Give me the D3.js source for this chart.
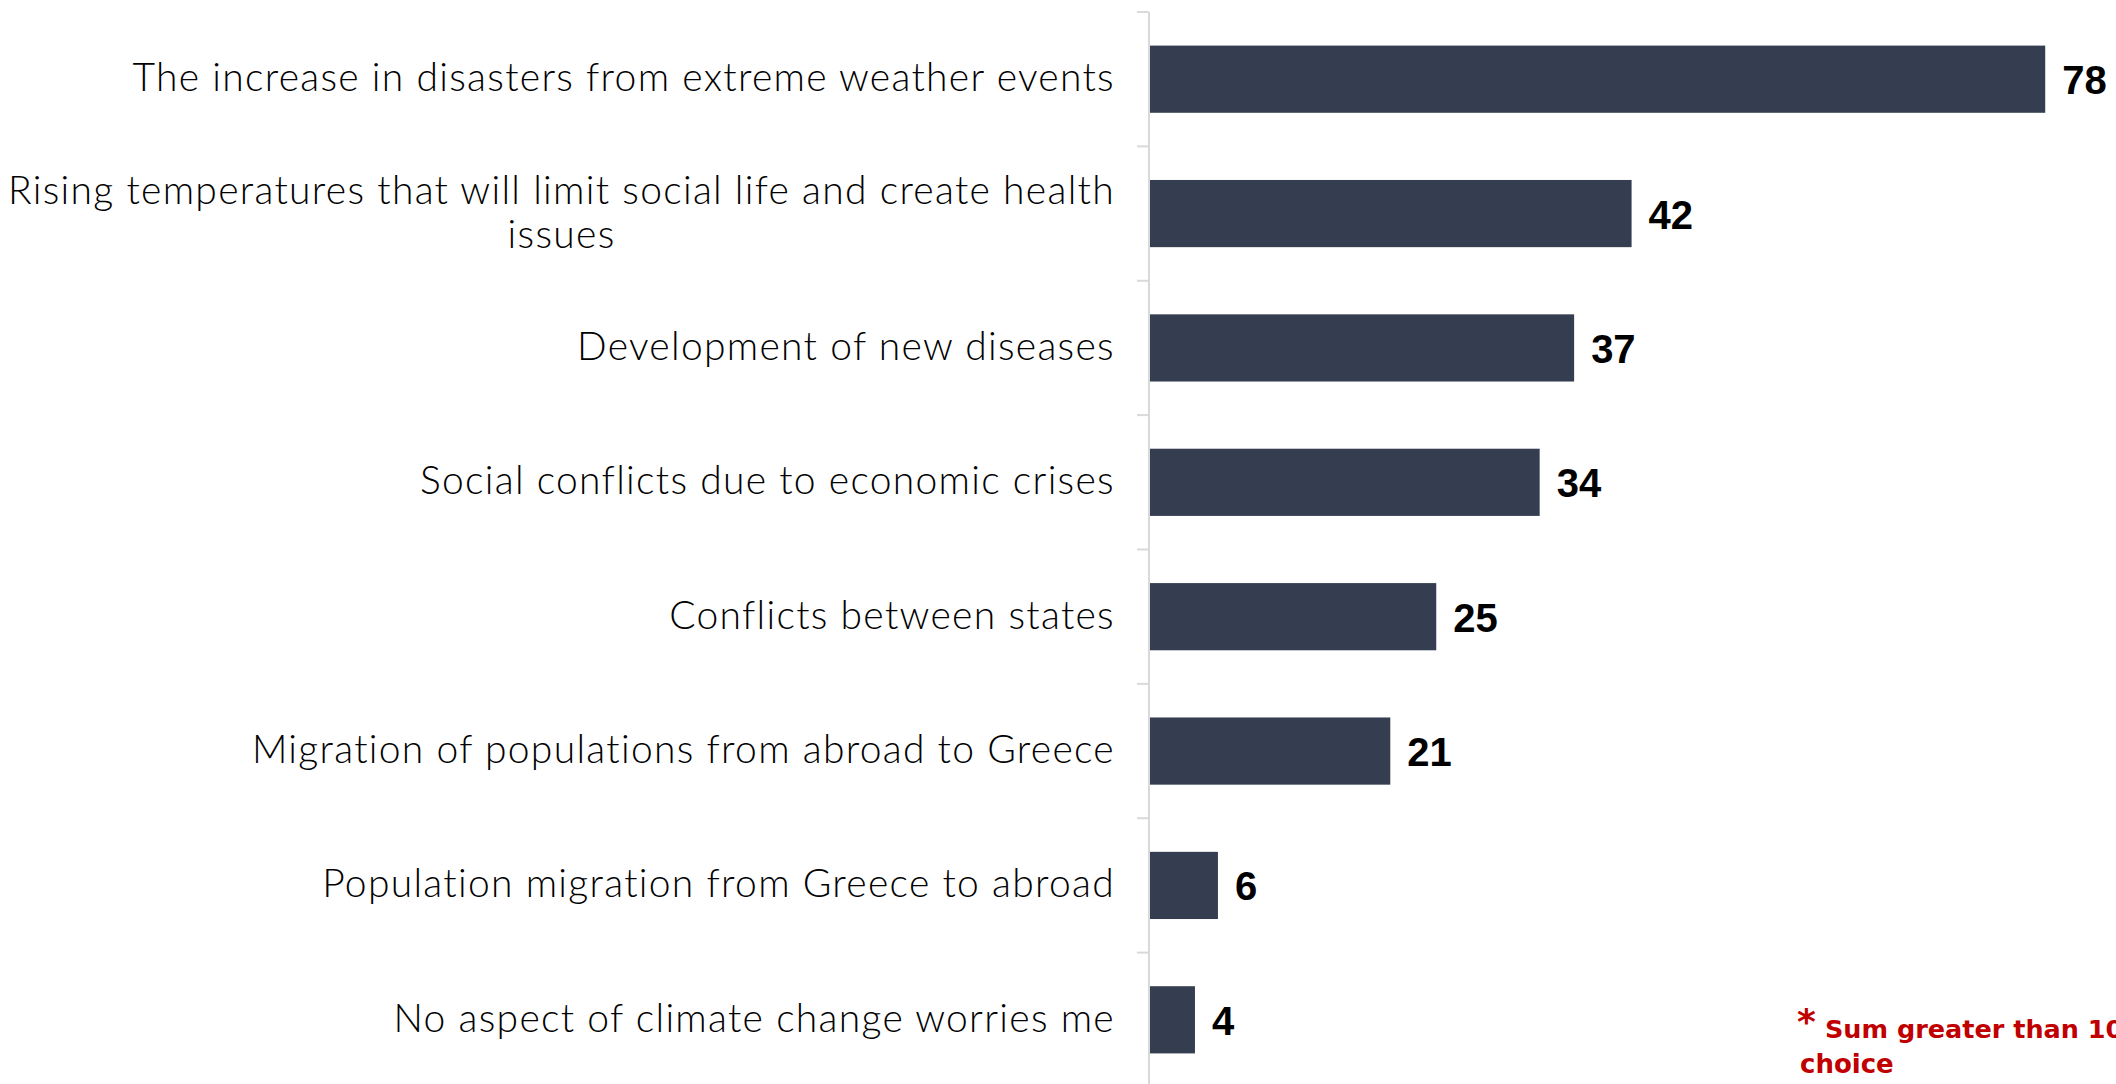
<!DOCTYPE html>
<html>
<head>
<meta charset="utf-8">
<script src="https://cdn.jsdelivr.net/npm/d3@7/dist/d3.min.js"></script>
<style>
  html, body { margin: 0; padding: 0; background: #ffffff; }
  svg { display: block; }
</style>
</head>
<body>
<svg id="chart" width="2116" height="1084"></svg>
<script>
const categories = [
  "The increase in disasters from extreme weather events",
  "Rising temperatures that will limit social life and create health issues",
  "Development of new diseases",
  "Social conflicts due to economic crises",
  "Conflicts between states",
  "Migration of populations from abroad to Greece",
  "Population migration from Greece to abroad",
  "No aspect of climate change worries me"
];
const values = [78, 42, 37, 34, 25, 21, 6, 4];
const footnoteMark = "*";
const footnoteLines = ["Sum greater than 100% due to multiple", "choice"];

const W = 2116, H = 1084;
const axisX = 1149;
const svg = d3.select("#chart");

const x = d3.scaleLinear().domain([0, 100]).range([axisX, axisX + 1149]);
const y = d3.scaleBand().domain(categories).range([12, 1087]).paddingInner(0.5).paddingOuter(0.25);

const barColor = "#343e50";
const axisColor = "#d9d9d9";
const labelFont = "Lato, 'Open Sans', sans-serif";
const valueFont = "'Liberation Sans', Arial, sans-serif";

// bars
svg.append("g").selectAll("rect")
  .data(values)
  .join("rect")
  .attr("x", x(0))
  .attr("y", (d, i) => y(categories[i]))
  .attr("width", d => x(d) - x(0))
  .attr("height", y.bandwidth())
  .attr("fill", barColor);

// axis line and boundary ticks
const axisG = svg.append("g").attr("transform", `translate(${axisX},0)`);
const axis = d3.axisLeft(y).tickSize(0).tickFormat("");
axisG.call(axis);
axisG.select(".domain").attr("stroke", axisColor).attr("stroke-width", 2)
  .attr("d", `M0,${y.range()[0]}V${y.range()[1]}`);
const step = y.step();
const boundaries = categories.map(c => y(c) - step * y.paddingInner() / 2);
boundaries.push(y(categories[categories.length - 1]) + y.bandwidth() + step * y.paddingInner() / 2);
axisG.selectAll("line.bt")
  .data(boundaries)
  .join("line")
  .attr("class", "bt")
  .attr("x1", -12).attr("x2", 0)
  .attr("y1", d => d).attr("y2", d => d)
  .attr("stroke", axisColor).attr("stroke-width", 2);

// category labels with wrapping
const labelRight = axisX - 34;
const maxLabelWidth = 1130;
const lineHeight = 44;
const labelG = svg.append("g")
  .attr("font-family", labelFont)
  .attr("font-weight", 300)
  .attr("font-size", 39)
  .attr("letter-spacing", 1.3)
  .attr("fill", "#000");

categories.forEach((c, i) => {
  const cy = y(c) + y.bandwidth() / 2;
  const t = labelG.append("text").attr("text-anchor", "middle");
  const words = c.split(" ");
  const lines = [];
  let cur = [];
  const probe = t.append("tspan");
  words.forEach(w => {
    const test = cur.concat([w]).join(" ");
    probe.text(test);
    if (probe.node().getComputedTextLength() > maxLabelWidth && cur.length) {
      lines.push(cur.join(" "));
      cur = [w];
    } else {
      cur.push(w);
    }
  });
  lines.push(cur.join(" "));
  let maxW = 0;
  lines.forEach(l => { probe.text(l); maxW = Math.max(maxW, probe.node().getComputedTextLength()); });
  probe.remove();
  const cx = labelRight - maxW / 2;
  const firstBase = cy + 12 - (lines.length - 1) * lineHeight / 2;
  lines.forEach((l, k) => {
    t.append("tspan").attr("x", cx).attr("y", firstBase + k * lineHeight).text(l);
  });
});

// value labels
svg.append("g").selectAll("text")
  .data(values)
  .join("text")
  .attr("x", d => x(d) + 17)
  .attr("y", (d, i) => y(categories[i]) + y.bandwidth() / 2 + 15)
  .attr("font-family", valueFont)
  .attr("font-weight", "bold")
  .attr("font-size", 40)
  .attr("fill", "#000")
  .text(d => d);

// footnote
const fn = svg.append("text")
  .attr("font-family", "'DejaVu Sans', sans-serif")
  .attr("font-weight", "bold")
  .attr("fill", "#c00000");
fn.append("tspan").attr("x", 1797).attr("y", 1034).attr("font-size", 36).text(footnoteMark);
fn.append("tspan").attr("x", 1825).attr("y", 1038).attr("font-size", 25.5).text(footnoteLines[0]);
fn.append("tspan").attr("x", 1800).attr("y", 1073).attr("font-size", 26).text(footnoteLines[1]);
</script>
</body>
</html>
